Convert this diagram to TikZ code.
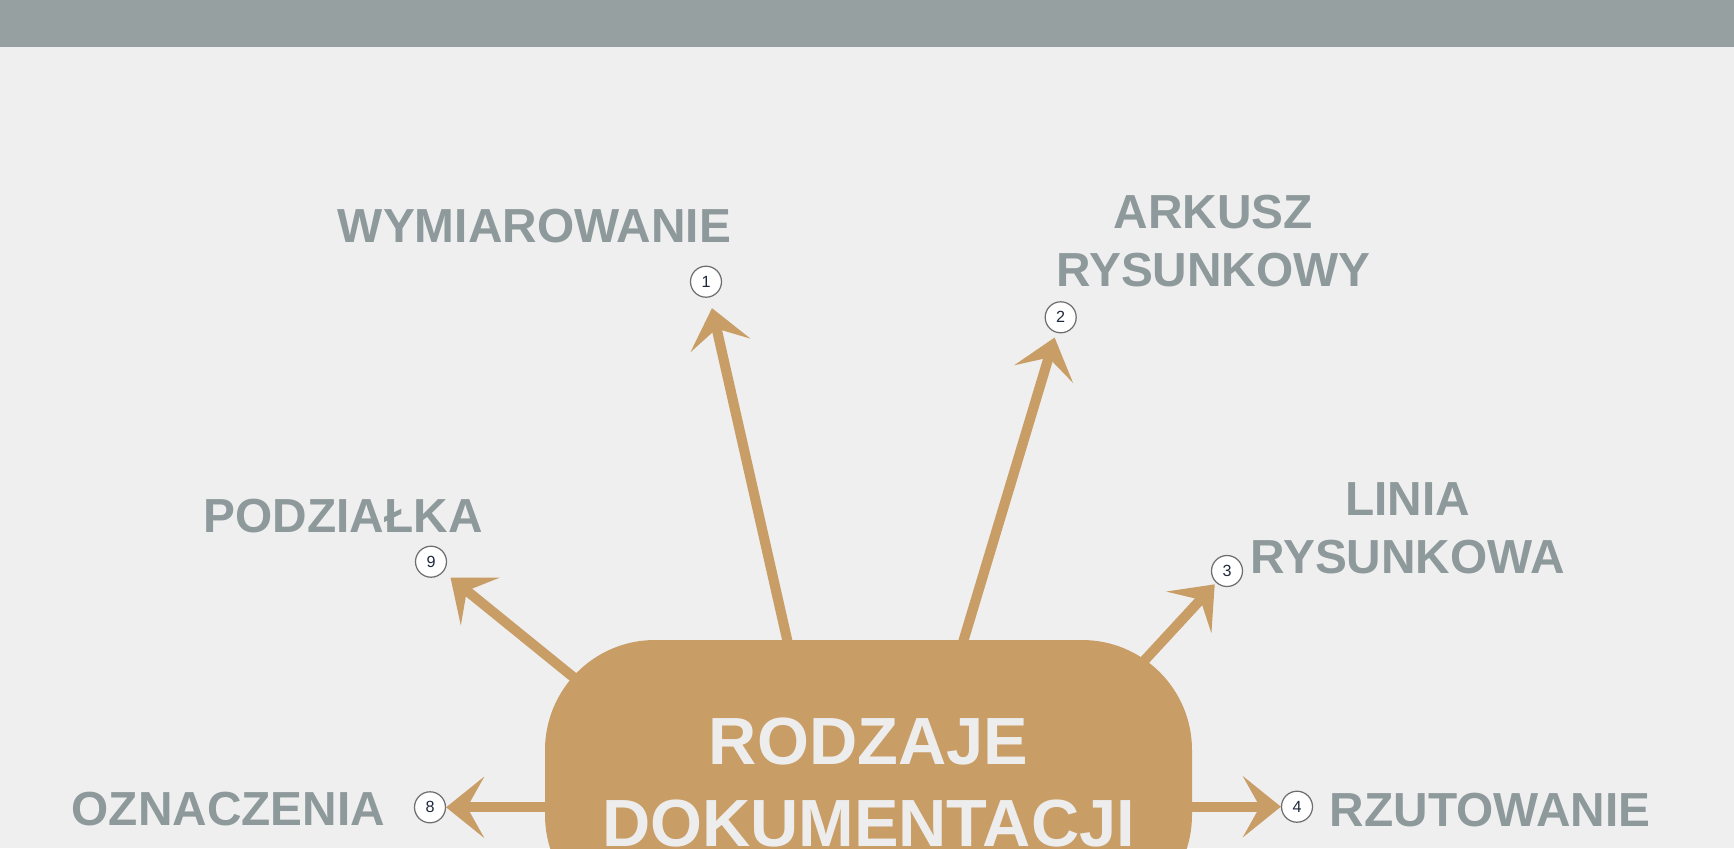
\documentclass[tikz,border=0pt]{standalone}
\usepackage{fontspec}
\setmainfont{Liberation Sans}
\usepackage{tikz}
\usetikzlibrary{positioning}
\usetikzlibrary{arrows.meta}
\pgfdeclarelayer{backdrop}
\pgfdeclarelayer{links}
\pgfsetlayers{backdrop,links,main}
\definecolor{pagegray}{RGB}{239,239,239}
\definecolor{bandgray}{RGB}{150,160,160}
\definecolor{labelgray}{RGB}{142,153,155}
\definecolor{coretan}{RGB}{201,157,102}
\definecolor{corewhite}{RGB}{237,237,237}
\definecolor{badgeline}{RGB}{110,110,110}
\definecolor{digitblue}{RGB}{30,40,60}
\tikzset{
    topic/.style = {
        text=labelgray, align=center, inner sep=0pt, font=\bfseries\fontsize{13.6}{16.25}\selectfont
    },
    badge/.style = {
        circle, draw=badgeline, line width=0.35pt, fill=white, minimum size=0.31cm, inner sep=0pt,
        text=digitblue, font=\fontsize{4.6}{5}\selectfont
    },
    core/.style = {
        rectangle, rounded corners=1.1cm, fill=coretan, text=corewhite, align=center,
        minimum width=6.47cm, minimum height=2.85cm, inner sep=0pt,
        font=\bfseries\fontsize{19}{23.2}\selectfont
    },
    spoke/.style = {
        draw=coretan, line width=2.85pt, -{Stealth[length=3.8mm, width=6.1mm, inset=1.7mm]}
    },
}

\begin{document}
\begin{tikzpicture}
        \useasboundingbox (0,0) rectangle (17.34,-8.48);
        \clip (0,0) rectangle (17.34,-8.48);

        % Backdrop
        \begin{pgfonlayer}{backdrop}
            \fill[pagegray] (0,0) rectangle (17.34,-8.48);
            \fill[bandgray] (0,0) rectangle (17.34,-0.467);
        \end{pgfonlayer}

        % Centre block
        \node[core] (hub) at (8.685,-7.825) {RODZAJE\\DOKUMENTACJI};

        % Numbered badges
        \node[badge] (b1) at (7.06,-2.817) {1};
        \node[badge] (b2) at (10.607,-3.173) {2};
        \node[badge] (b3) at (12.27,-5.71) {3};
        \node[badge] (b4) at (12.97,-8.067) {4};
        \node[badge] (b8) at (4.30,-8.073) {8};
        \node[badge] (b9) at (4.31,-5.617) {9};

        % Topics
        \node[topic] (t1) at (5.344,-2.265) {WYMIAROWANIE};
        \node[topic] (t2) at (12.135,-2.41) {ARKUSZ\\RYSUNKOWY};
        \node[topic] (t3) at (14.075,-5.283) {LINIA\\RYSUNKOWA};
        \node[topic] (t4) at (14.90,-8.103) {RZUTOWANIE};
        \node[topic] (t8) at (2.283,-8.092) {OZNACZENIA};
        \node[topic] (t9) at (3.433,-5.158) {PODZIAŁKA};

        % Draw connections
        \coordinate (s1) at (8.008,-7.00);
        \coordinate (s2) at (9.456,-7.00);
        \coordinate (s3) at (10.895,-7.20);
        \coordinate (s4) at (11.40,-8.067);
        \coordinate (s8) at (6.00,-8.073);
        \coordinate (s9) at (6.20,-7.15);
        \begin{pgfonlayer}{links}
            \draw[spoke, shorten >=1.1mm] (s1) -- (b1);
            \draw[spoke, shorten >=0.5mm] (s2) -- (b2);
            \draw[spoke, shorten >=0.2mm] (s3) -- (b3);
            \draw[spoke] (s4) -- (b4);
            \draw[spoke] (s8) -- (b8);
            \draw[spoke, shorten >=0.9mm] (s9) -- (b9);
        \end{pgfonlayer}
    \end{tikzpicture}
\end{document}
